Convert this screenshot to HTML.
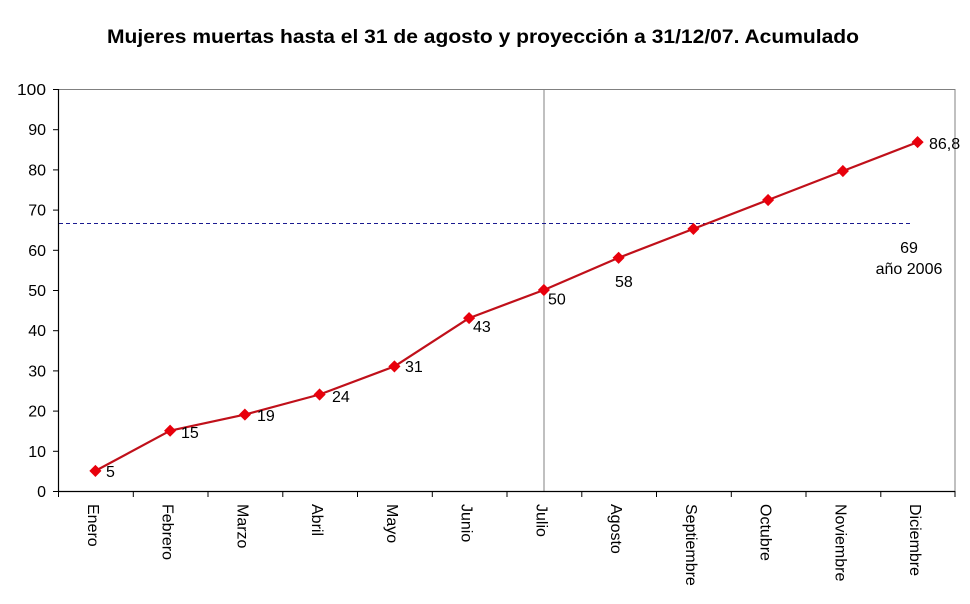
<!DOCTYPE html>
<html>
<head>
<meta charset="utf-8">
<style>
html,body{margin:0;padding:0;background:#fff;}
svg{display:block;}
text{font-family:"Liberation Sans",Arial,sans-serif;}
</style>
</head>
<body>
<svg width="970" height="604" viewBox="0 0 970 604" xmlns="http://www.w3.org/2000/svg">
<rect width="970" height="604" fill="#fff"/>
<!-- title -->
<text x="483" y="43" text-anchor="middle" font-size="19.5" font-weight="bold" fill="#000" textLength="752" lengthAdjust="spacingAndGlyphs">Mujeres muertas hasta el 31 de agosto y proyección a 31/12/07. Acumulado</text>

<!-- plot border -->
<line x1="58" y1="89.5" x2="955" y2="89.5" stroke="#808080" stroke-width="1"/>
<line x1="955" y1="89" x2="955" y2="491" stroke="#808080" stroke-width="1"/>
<!-- vertical Julio line -->
<line x1="544" y1="89" x2="544" y2="491" stroke="#808080" stroke-width="1"/>
<!-- dashed 2006 line -->
<line x1="59" y1="223.5" x2="911" y2="223.5" stroke="#1a1a90" stroke-width="1" stroke-dasharray="4,3"/>

<!-- axes -->
<line x1="58.5" y1="89" x2="58.5" y2="492" stroke="#000" stroke-width="1.2"/>
<line x1="58" y1="491.5" x2="955" y2="491.5" stroke="#000" stroke-width="1.2"/>

<!-- y ticks -->
<g stroke="#000" stroke-width="1">
<line x1="53" y1="491.5" x2="58" y2="491.5"/>
<line x1="53" y1="451.3" x2="58" y2="451.3"/>
<line x1="53" y1="411.1" x2="58" y2="411.1"/>
<line x1="53" y1="370.9" x2="58" y2="370.9"/>
<line x1="53" y1="330.7" x2="58" y2="330.7"/>
<line x1="53" y1="290.5" x2="58" y2="290.5"/>
<line x1="53" y1="250.3" x2="58" y2="250.3"/>
<line x1="53" y1="210.1" x2="58" y2="210.1"/>
<line x1="53" y1="169.9" x2="58" y2="169.9"/>
<line x1="53" y1="129.7" x2="58" y2="129.7"/>
<line x1="53" y1="89.5" x2="58" y2="89.5"/>
</g>
<g font-size="16" fill="#000" text-anchor="end">
<text x="46" y="497">0</text>
<text x="46" y="456.8">10</text>
<text x="46" y="416.6">20</text>
<text x="46" y="376.4">30</text>
<text x="46" y="336.2">40</text>
<text x="46" y="296">50</text>
<text x="46" y="255.8">60</text>
<text x="46" y="215.6">70</text>
<text x="46" y="175.4">80</text>
<text x="46" y="135.2">90</text>
<text x="46" y="95" textLength="29" lengthAdjust="spacingAndGlyphs">100</text>
</g>

<!-- x ticks -->
<g stroke="#000" stroke-width="1">
<line x1="58.5" y1="491" x2="58.5" y2="497"/>
<line x1="133.3" y1="491" x2="133.3" y2="497"/>
<line x1="208" y1="491" x2="208" y2="497"/>
<line x1="282.8" y1="491" x2="282.8" y2="497"/>
<line x1="357.5" y1="491" x2="357.5" y2="497"/>
<line x1="432.3" y1="491" x2="432.3" y2="497"/>
<line x1="507" y1="491" x2="507" y2="497"/>
<line x1="581.8" y1="491" x2="581.8" y2="497"/>
<line x1="656.5" y1="491" x2="656.5" y2="497"/>
<line x1="731.3" y1="491" x2="731.3" y2="497"/>
<line x1="806" y1="491" x2="806" y2="497"/>
<line x1="880.8" y1="491" x2="880.8" y2="497"/>
<line x1="955" y1="491" x2="955" y2="497"/>
</g>

<!-- x labels -->
<g font-size="16" fill="#000">
<text transform="translate(95.4,504) rotate(90)" y="3" dominant-baseline="central">Enero</text>
<text transform="translate(170.1,504) rotate(90)" y="3" dominant-baseline="central">Febrero</text>
<text transform="translate(244.9,504) rotate(90)" y="3" dominant-baseline="central">Marzo</text>
<text transform="translate(319.6,504) rotate(90)" y="3" dominant-baseline="central">Abril</text>
<text transform="translate(394.4,504) rotate(90)" y="3" dominant-baseline="central">Mayo</text>
<text transform="translate(469.1,504) rotate(90)" y="3" dominant-baseline="central">Junio</text>
<text transform="translate(543.9,504) rotate(90)" y="3" dominant-baseline="central">Julio</text>
<text transform="translate(618.6,504) rotate(90)" y="3" dominant-baseline="central">Agosto</text>
<text transform="translate(693.4,504) rotate(90)" y="3" dominant-baseline="central">Septiembre</text>
<text transform="translate(768.1,504) rotate(90)" y="3" dominant-baseline="central">Octubre</text>
<text transform="translate(842.9,504) rotate(90)" y="3" dominant-baseline="central">Noviembre</text>
<text transform="translate(917.6,504) rotate(90)" y="3" dominant-baseline="central">Diciembre</text>
</g>

<!-- series line -->
<polyline fill="none" stroke="#c0101a" stroke-width="2.2" stroke-linejoin="round"
points="95.4,470.9 170.1,430.7 244.9,414.6 319.6,394.5 394.4,366.4 469.1,318.1 543.9,290 618.6,257.8 693.4,228.9 768.1,200 842.9,171 917.6,142.1"/>

<!-- markers -->
<g fill="#e8000c" stroke="#e8000c" stroke-width="0.8">
<polygon points="95.4,465.4 100.9,470.9 95.4,476.4 89.9,470.9"/>
<polygon points="170.1,425.2 175.6,430.7 170.1,436.2 164.6,430.7"/>
<polygon points="244.9,409.1 250.4,414.6 244.9,420.1 239.4,414.6"/>
<polygon points="319.6,389 325.1,394.5 319.6,400 314.1,394.5"/>
<polygon points="394.4,360.9 399.9,366.4 394.4,371.9 388.9,366.4"/>
<polygon points="469.1,312.6 474.6,318.1 469.1,323.6 463.6,318.1"/>
<polygon points="543.9,284.5 549.4,290 543.9,295.5 538.4,290"/>
<polygon points="618.6,252.3 624.1,257.8 618.6,263.3 613.1,257.8"/>
<polygon points="693.4,223.4 698.9,228.9 693.4,234.4 687.9,228.9"/>
<polygon points="768.1,194.5 773.6,200 768.1,205.5 762.6,200"/>
<polygon points="842.9,165.5 848.4,171 842.9,176.5 837.4,171"/>
<polygon points="917.6,136.6 923.1,142.1 917.6,147.6 912.1,142.1"/>
</g>

<!-- data labels -->
<g font-size="16" fill="#000">
<text x="106" y="477">5</text>
<text x="181" y="438">15</text>
<text x="257" y="421">19</text>
<text x="332" y="402">24</text>
<text x="405" y="372">31</text>
<text x="473" y="332">43</text>
<text x="548" y="304.5">50</text>
<text x="615" y="287">58</text>
<text x="929" y="149">86,8</text>
</g>

<!-- 2006 annotation -->
<g font-size="16" fill="#000" text-anchor="middle">
<text x="909" y="253">69</text>
<text x="909" y="274">año 2006</text>
</g>
</svg>
</body>
</html>
